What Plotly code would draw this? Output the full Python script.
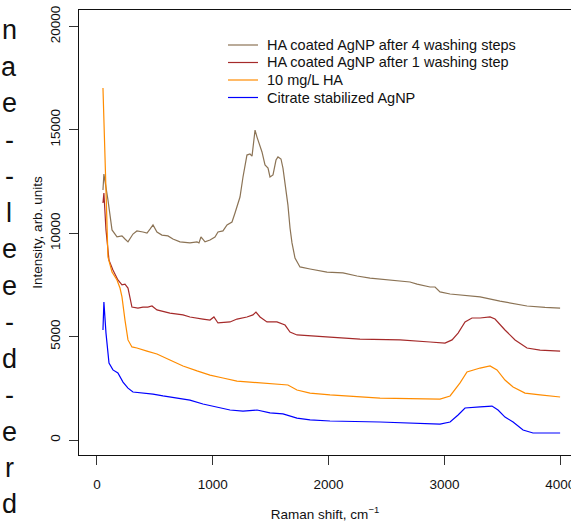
import plotly.graph_objects as go

# ---- data ----
ha4_x = [52, 60, 95, 130, 173, 216, 242, 268, 311, 345, 397, 432, 458, 484, 518, 561, 613, 656, 717,
         803, 864, 881, 898, 933, 976, 1019, 1045, 1088, 1123, 1166, 1192, 1235, 1261, 1295, 1321, 1339,
         1365, 1382, 1425, 1451, 1477, 1494, 1520, 1546, 1563, 1589, 1606, 1632, 1649, 1667, 1684, 1710,
         1753, 1840, 1986, 2124, 2245, 2358, 2530, 2703, 2764, 2876, 2919, 2962, 3049, 3221, 3308, 3480,
         3610, 3713, 3869, 3999]
ha4_y = [12090, 12860, 11610, 10160, 9820, 9870, 9720, 9580, 9960, 10110, 10060, 10010, 10200, 10400,
         10060, 9910, 9870, 9720, 9580, 9530, 9580, 9530, 9820, 9580, 9670, 9820, 10060, 10110, 10400,
         10540, 10980, 11750, 12720, 13780, 13830, 13730, 14990, 14650, 13930, 13300, 13150, 12720, 12820,
         13540, 13690, 13590, 13150, 12090, 11360, 10250, 9530, 8800, 8370, 8270, 8120, 8080, 7930, 7830,
         7740, 7640, 7540, 7400, 7400, 7160, 7060, 6960, 6920, 6720, 6580, 6480, 6410, 6380]

ha1_x = [52, 60, 78, 104, 138, 181, 216, 242, 268, 285, 302, 354, 397, 440, 475, 518, 630, 743, 803,
         915, 976, 1010, 1045, 1149, 1209, 1295, 1347, 1373, 1408, 1468, 1554, 1624, 1667, 1727, 1840,
         2012, 2271, 2617, 2876, 3005, 3066, 3118, 3178, 3238, 3308, 3394, 3437, 3523, 3610, 3713, 3826,
         3999]
ha1_y = [11460, 11940, 10160, 8700, 8220, 7740, 7500, 7540, 7350, 6920, 6430, 6380, 6430, 6430, 6480,
         6290, 6140, 6050, 5950, 5850, 5800, 5950, 5660, 5710, 5850, 5950, 6050, 6190, 5950, 5710, 5710,
         5560, 5220, 5080, 5030, 4980, 4880, 4840, 4740, 4690, 4840, 5170, 5710, 5900, 5900, 5950, 5850,
         5320, 4840, 4450, 4350, 4300]

ha_x = [52, 60, 69, 86, 95, 130, 173, 199, 216, 242, 268, 302, 345, 432, 518, 630, 743, 864, 976, 1088,
        1209, 1321, 1434, 1554, 1649, 1727, 1840, 2012, 2444, 2962, 3049, 3135, 3195, 3308, 3394, 3454,
        3523, 3593, 3696, 3826, 3999]
ha_y = [17020, 15480, 12910, 10160, 8850, 8120, 7740, 7350, 6920, 5800, 4840, 4500, 4450, 4300, 4160,
        3870, 3580, 3340, 3140, 3000, 2850, 2800, 2760, 2710, 2660, 2420, 2270, 2180, 2030, 1980, 2130,
        2760, 3290, 3480, 3580, 3390, 2900, 2560, 2270, 2180, 2080]

cit_x = [52, 60, 78, 104, 138, 181, 225, 268, 311, 397, 484, 570, 691, 803, 915, 1036, 1149, 1261, 1382,
         1494, 1606, 1727, 1840, 2012, 2444, 2962, 3049, 3118, 3178, 3308, 3411, 3463, 3523, 3593, 3679,
         3765, 3999]
cit_y = [5320, 6670, 5170, 3720, 3390, 3240, 2800, 2510, 2320, 2270, 2220, 2130, 2030, 1930, 1740, 1600,
         1450, 1400, 1450, 1310, 1260, 1060, 970, 920, 870, 770, 870, 1210, 1550, 1600, 1640, 1450, 1110,
         870, 480, 340, 340]

series_names = ["HA coated AgNP after 4 washing steps",
                "HA coated AgNP after 1 washing step",
                "10 mg/L HA",
                "Citrate stabilized AgNP"]
series_colors = ["#8B7355", "#A52A2A", "#FF8C00", "#0000FF"]

x_ticks = [0, 1000, 2000, 3000, 4000]
y_ticks = [0, 5000, 10000, 15000, 20000]

margin_letters = ["n", "a", "e", "-", "-", "l", "e", "e", "-", "d", "-", "e", "r", "d"]

# ---- figure ----
W, H = 571, 523
L, R, T, B = 79, 0, 10, 68
pw, ph = W - L - R, H - T - B

def px_x(p):
    return (p - L) / pw

def px_y(p):
    return (H - B - p) / ph

fig = go.Figure()
for xs, ys, nm, col in zip([ha4_x, ha1_x, ha_x, cit_x], [ha4_y, ha1_y, ha_y, cit_y],
                           series_names, series_colors):
    fig.add_trace(go.Scatter(x=xs, y=ys, mode="lines", name=nm, showlegend=False,
                             line=dict(color=col, width=1.2)))

font = "Liberation Sans, Arial, sans-serif"
fig.update_layout(
    width=W, height=H,
    margin=dict(l=L, r=R, t=T, b=B, pad=0, autoexpand=False),
    plot_bgcolor="white", paper_bgcolor="white",
    font=dict(family=font, size=13, color="#222"),
    showlegend=False,
)
fig.update_xaxes(range=[-155, 4093], tickvals=x_ticks, ticktext=[str(v) for v in x_ticks],
                 automargin=False, ticklabeloverflow="allow",
                 showgrid=False, zeroline=False, showline=True, linecolor="#111", linewidth=1,
                 mirror=True, ticks="outside", ticklen=9, tickcolor="#333",
                 ticklabelstandoff=8, tickfont=dict(size=13.5, color="#111"),
                 title=dict(text="Raman shift, cm<sup>−1</sup>", font=dict(size=13.5, color="#111"),
                            standoff=18))
fig.update_yaxes(range=[-725, 20795], tickvals=y_ticks, ticktext=[str(v) for v in y_ticks],
                 automargin=False, ticklabeloverflow="allow",
                 showgrid=False, zeroline=False, showline=True, linecolor="#111", linewidth=1,
                 ticks="outside", ticklen=9, tickcolor="#333", tickangle=-90,
                 ticklabelstandoff=4, tickfont=dict(size=13.5, color="#111"),
                 title=dict(text="Intensity, arb. units", font=dict(size=13.5, color="#111"),
                            standoff=1))

# legend (drawn as line samples + text, like the reference's boxless legend)
for i, (nm, col) in enumerate(zip(series_names, series_colors)):
    yy = 45 + i * 17.5
    fig.add_shape(type="line", xref="paper", yref="paper", x0=px_x(228), x1=px_x(258),
                  y0=px_y(yy), y1=px_y(yy), line=dict(color=col, width=1.2))
    fig.add_annotation(text=nm, xref="paper", yref="paper", x=px_x(265), y=px_y(yy),
                       xanchor="left", yanchor="middle", showarrow=False,
                       font=dict(size=14.5, color="#111", family=font))

for i, ch in enumerate(margin_letters):
    py = 30 + i * 36.5
    fig.add_annotation(text=ch, xref="paper", yref="paper", x=px_x(9), y=px_y(py),
                       xanchor="center", yanchor="middle", showarrow=False,
                       font=dict(size=27, color="#111", family=font))

fig.write_html("out.html", config={"displayModeBar": False},
               post_script="document.body.style.margin='0px';")
